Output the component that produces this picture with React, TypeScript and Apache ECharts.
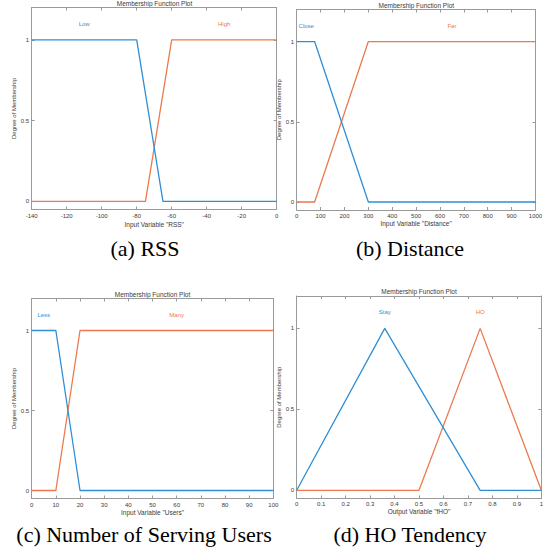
import { useEffect, useRef } from "react";
import * as echarts from "echarts";

// Panel (a) RSS
const rssLowX = [-140, -80, -65, 0];
const rssLowY = [1, 1, 0, 0];
const rssHighX = [-140, -75, -60, 0];
const rssHighY = [0, 0, 1, 1];
// Panel (b) Distance
const distCloseX = [0, 75, 300, 1000];
const distCloseY = [1, 1, 0, 0];
const distFarX = [0, 75, 300, 1000];
const distFarY = [0, 0, 1, 1];
// Panel (c) Users
const usersLessX = [0, 10, 20, 100];
const usersLessY = [1, 1, 0, 0];
const usersManyX = [0, 10, 20, 100];
const usersManyY = [0, 0, 1, 1];
// Panel (d) HO tendency
const stayX = [0, 0.36, 0.75, 1];
const stayY = [0, 1, 0, 0];
const hoX = [0, 0.5, 0.75, 1];
const hoY = [0, 0, 1, 0];

const yTicks = [0, 0.5, 1];
const mfNames = [
  ["Low", "High"],
  ["Close", "Far"],
  ["Less", "Many"],
  ["Stay", "HO"],
];
const mfLabelX = [
  [-110, -30],
  [40, 650],
  [5, 60],
  [0.36, 0.75],
];
const xNames = [
  'Input Variable "RSS"',
  'Input Variable "Distance"',
  'Input Variable "Users"',
  'Output Variable "fHO"',
];
const captions = ["(a) RSS", "(b) Distance", "(c) Number of Serving Users", "(d) HO Tendency"];
const xRanges = [
  [-140, 0, 20],
  [0, 1000, 100],
  [0, 100, 10],
  [0, 1, 0.1],
];

const BLUE = "#2f8fd6";
const ORANGE = "#ec7a4e";
const SANS = '"Liberation Sans", Arial, sans-serif';
const SERIF = '"Liberation Serif", "Times New Roman", serif';
const AXIS = "#9a9a9a";
const TXT = "#3a3a3a";

const fmt = (v: number) => String(+v.toFixed(6));

export default function App() {
  const ref = useRef<HTMLDivElement>(null);
  useEffect(() => {
    document.body.style.margin = "0";
    if (!ref.current) return;
    const chart = echarts.init(ref.current, null, { renderer: "svg" });

    const grids = [
      { left: 31.7, top: 7.5, width: 245, height: 202 },
      { left: 296.7, top: 9.5, width: 238.8, height: 200.5 },
      { left: 31.7, top: 298.5, width: 241.6, height: 200 },
      { left: 296.7, top: 296, width: 244.6, height: 202.4 },
    ];
    const titlePos = [
      [154.5, 3],
      [416.3, 5.5],
      [152.5, 294],
      [419, 291],
    ];
    const captionPos = [
      [145, 248],
      [410, 248],
      [144, 534.5],
      [410, 534.7],
    ];
    const xNameGap = [11, 10, 10, 10];
    const yNameGap = [13, 12.5, 13, 12.5];

    const seriesData = [
      [
        [rssLowX, rssLowY],
        [rssHighX, rssHighY],
      ],
      [
        [distCloseX, distCloseY],
        [distFarX, distFarY],
      ],
      [
        [usersLessX, usersLessY],
        [usersManyX, usersManyY],
      ],
      [
        [stayX, stayY],
        [hoX, hoY],
      ],
    ];

    const xAxis: any[] = [];
    const yAxis: any[] = [];
    const series: any[] = [];
    const graphic: any[] = [];

    const tick = { show: true, inside: true, length: 3, lineStyle: { color: AXIS, width: 1 } };
    const line = { show: true, lineStyle: { color: AXIS, width: 1 } };

    grids.forEach((g, i) => {
      const [mn, mx, step] = xRanges[i];
      xAxis.push({
        type: "value",
        gridIndex: i,
        position: "bottom",
        min: mn,
        max: mx,
        interval: step,
        axisLine: { ...line, onZero: false },
        axisTick: tick,
        splitLine: { show: false },
        axisLabel: {
          fontSize: 6,
          color: TXT,
          fontFamily: SANS,
          margin: 3,
          showMinLabel: true,
          showMaxLabel: true,
          formatter: fmt,
        },
        name: xNames[i],
        nameLocation: "middle",
        nameGap: xNameGap[i],
        nameTextStyle: { fontSize: 6.5, color: TXT, fontFamily: SANS },
      });
      xAxis.push({
        type: "value",
        gridIndex: i,
        position: "top",
        min: mn,
        max: mx,
        interval: step,
        axisLine: { ...line, onZero: false },
        axisTick: tick,
        splitLine: { show: false },
        axisLabel: { show: false },
      });
      yAxis.push({
        type: "value",
        gridIndex: i,
        position: "left",
        min: -0.05,
        max: 1.2,
        axisLine: { ...line, onZero: false },
        axisTick: { ...tick, customValues: yTicks },
        splitLine: { show: false },
        axisLabel: { fontSize: 6, color: TXT, fontFamily: SANS, margin: 2.5, customValues: yTicks, formatter: fmt },
        name: "Degree of Membership",
        nameLocation: "middle",
        nameGap: yNameGap[i],
        nameTextStyle: { fontSize: 6, color: TXT, fontFamily: SANS },
      });
      yAxis.push({
        type: "value",
        gridIndex: i,
        position: "right",
        min: -0.05,
        max: 1.2,
        axisLine: { ...line, onZero: false },
        axisTick: { ...tick, customValues: yTicks },
        splitLine: { show: false },
        axisLabel: { show: false, customValues: yTicks },
      });

      seriesData[i].forEach(([xs, ys], k) => {
        const color = k === 0 ? BLUE : ORANGE;
        const name = mfNames[i][k];
        series.push({
          type: "line",
          name,
          xAxisIndex: 2 * i,
          yAxisIndex: 2 * i,
          data: xs.map((v: number, j: number) => [v, ys[j]]),
          symbol: "none",
          showSymbol: false,
          lineStyle: { color, width: 1.3 },
          itemStyle: { color },
          z: k === 0 ? 3 : 2,
          markPoint: {
            symbol: "circle",
            symbolSize: 0,
            silent: true,
            data: [{ coord: [mfLabelX[i][k], 1.1] }],
            label: {
              show: true,
              position: "inside",
              formatter: name,
              color,
              fontSize: 6,
              fontFamily: SANS,
            },
          },
        });
      });

      graphic.push({
        type: "text",
        x: titlePos[i][0],
        y: titlePos[i][1],
        style: {
          text: "Membership Function Plot",
          font: `6.5px ${SANS}`,
          fill: TXT,
          textAlign: "center",
          textVerticalAlign: "middle",
          align: "center",
          verticalAlign: "middle",
        },
      });
      graphic.push({
        type: "text",
        x: captionPos[i][0],
        y: captionPos[i][1],
        style: {
          text: captions[i],
          font: `22px ${SERIF}`,
          fill: "#000",
          textAlign: "center",
          textVerticalAlign: "middle",
          align: "center",
          verticalAlign: "middle",
        },
      });
    });

    chart.setOption({
      animation: false,
      backgroundColor: "#fff",
      grid: grids.map((g) => ({ ...g, containLabel: false })),
      xAxis,
      yAxis,
      series,
      graphic,
    });
    return () => chart.dispose();
  }, []);
  return <div ref={ref} style={{ width: 554, height: 552 }} />;
}
